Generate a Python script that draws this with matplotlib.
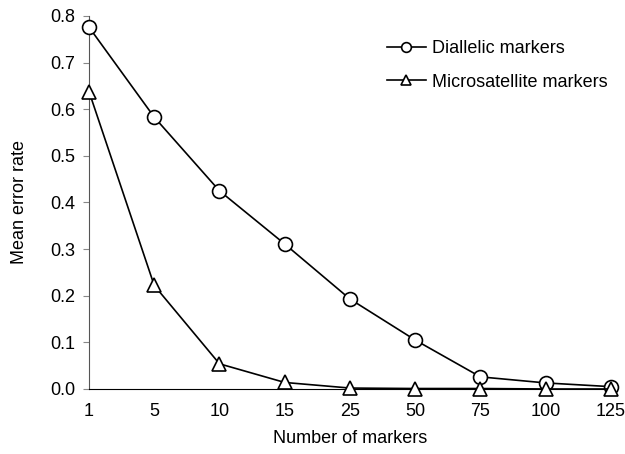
import matplotlib.pyplot as plt

plt.rcParams['font.family'] = ['Liberation Sans', 'DejaVu Sans']

markers = ['1', '5', '10', '15', '25', '50', '75', '100', '125']
diallelic = [0.776, 0.583, 0.425, 0.311, 0.193, 0.105, 0.026, 0.013, 0.005]
microsat = [0.638, 0.222, 0.054, 0.014, 0.002, 0.001, 0.001, 0.0, 0.0]
yticks = [0.0, 0.1, 0.2, 0.3, 0.4, 0.5, 0.6, 0.7, 0.8]

fig = plt.figure(figsize=(6.25, 4.54), dpi=100)
ax = fig.add_axes([0.1424, 0.1432, 0.835, 0.8216])

x = list(range(len(markers)))
ax.plot(x, diallelic, color='black', lw=1.2, marker='o', ms=10,
        mfc='white', mec='black', mew=1.2, clip_on=False, zorder=3,
        label='Diallelic markers')
ax.plot(x, microsat, color='black', lw=1.2, marker='^', ms=10,
        mfc='white', mec='black', mew=1.2, clip_on=False, zorder=4,
        label='Microsatellite markers')

ax.set_xlim(0, len(markers) - 1)
ax.set_ylim(0, 0.8)
ax.set_xticks(x)
ax.set_xticklabels(markers)
ax.set_yticks(yticks)
ax.set_yticklabels(['%.1f' % v for v in yticks])

for s in ['top', 'right']:
    ax.spines[s].set_visible(False)
ax.spines['left'].set_color('#555555')
ax.spines['bottom'].set_color('black')
ax.tick_params(axis='y', length=4, color='#888888', labelsize=13, pad=6)
ax.tick_params(axis='x', length=0, labelsize=13, pad=10)

ax.set_xlabel('Number of markers', fontsize=13, labelpad=7)
ax.set_ylabel('Mean error rate', fontsize=13, labelpad=16)

leg = ax.legend(loc='upper left', bbox_to_anchor=(0.539, 0.978), frameon=False,
                fontsize=13, handlelength=2.2, labelspacing=0.9,
                handletextpad=0.3, markerscale=0.7)

fig.savefig('out.png', dpi=100)
